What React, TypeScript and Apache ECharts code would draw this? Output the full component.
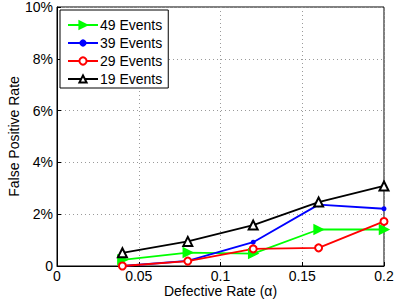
import React, { useEffect, useRef } from "react";
import * as echarts from "echarts";

const alphas = [0.04, 0.08, 0.12, 0.16, 0.2];
const xTicks = [0, 0.05, 0.1, 0.15, 0.2];
const yTicks = [0, 2, 4, 6, 8, 10];
const seriesNames = ["49 Events", "39 Events", "29 Events", "19 Events"];
const events49 = [0.24, 0.52, 0.48, 1.41, 1.41];
const events39 = [0.0, 0.2, 0.92, 2.37, 2.21];
const events29 = [0.0, 0.19, 0.66, 0.7, 1.72];
const events19 = [0.51, 0.95, 1.58, 2.47, 3.09];

const FONT = "Liberation Sans";
const FS = 14;

export default function App() {
  const ref = useRef<HTMLDivElement>(null);
  useEffect(() => {
    if (!ref.current) return;
    const chart = echarts.init(ref.current, null, { renderer: "svg" });
    const mk = (vals: number[]) => vals.map((v, i) => [alphas[i], v]);
    const series: any[] = [
      {
        name: seriesNames[0],
        type: "line",
        data: mk(events49),
        symbol: "triangle",
        symbolRotate: -90,
        symbolSize: 9,
        lineStyle: { color: "#00ff00", width: 1.8 },
        itemStyle: { color: "#00ff00", borderColor: "#00ff00", borderWidth: 1.5 },
      },
      {
        name: seriesNames[1],
        type: "line",
        data: mk(events39),
        symbol: "circle",
        symbolSize: 5,
        lineStyle: { color: "#0000ff", width: 1.8 },
        itemStyle: { color: "#0000ff", borderColor: "#0000ff", borderWidth: 0 },
      },
      {
        name: seriesNames[2],
        type: "line",
        data: mk(events29),
        symbol: "emptyCircle",
        symbolSize: 7,
        lineStyle: { color: "#ff0000", width: 1.8 },
        itemStyle: { color: "#ff0000", borderColor: "#ff0000", borderWidth: 1.5 },
      },
      {
        name: seriesNames[3],
        type: "line",
        data: mk(events19),
        symbol: "emptyTriangle",
        symbolSize: 9,
        lineStyle: { color: "#000000", width: 1.8 },
        itemStyle: { color: "#000000", borderColor: "#000000", borderWidth: 1.5 },
      },
    ];
    chart.setOption({
      animation: false,
      backgroundColor: "#ffffff",
      textStyle: { fontFamily: FONT },
      grid: {
        left: 57,
        right: 10,
        top: 7,
        bottom: 38,
        containLabel: false,
        outerBoundsMode: "none",
        show: true,
        borderColor: "#000",
        borderWidth: 1,
      },
      legend: {
        orient: "vertical",
        left: 60,
        top: 10,
        data: seriesNames,
        backgroundColor: "#fff",
        borderColor: "#000",
        borderWidth: 1,
        borderRadius: 0,
        padding: [8, 6, 2, 7],
        itemWidth: 30,
        itemHeight: 9,
        itemGap: 4,
        textStyle: { fontFamily: FONT, fontSize: FS, color: "#000", padding: [0, 0, 0, -3] },
      },
      xAxis: {
        type: "value",
        min: xTicks[0],
        max: xTicks[xTicks.length - 1],
        interval: 0.05,
        name: "Defective Rate (α)",
        nameLocation: "middle",
        nameGap: 18,
        nameMoveOverlap: false,
        nameTextStyle: { fontFamily: FONT, fontSize: FS, color: "#000" },
        axisLine: { lineStyle: { color: "#000", width: 1 } },
        axisTick: { inside: true, length: 4, lineStyle: { color: "#000" } },
        axisLabel: {
          fontFamily: FONT,
          fontSize: FS,
          color: "#000",
          margin: 3,
          formatter: (v: number) => (v === 0 ? "0" : String(Math.round(v * 100) / 100)),
        },
        splitLine: { show: true, lineStyle: { color: "#9a9a9a", type: [1, 3], width: 1 } },
      },
      yAxis: {
        type: "value",
        min: yTicks[0],
        max: yTicks[yTicks.length - 1],
        interval: 2,
        name: "False Positive Rate",
        nameLocation: "middle",
        nameGap: 36,
        nameMoveOverlap: false,
        nameTextStyle: { fontFamily: FONT, fontSize: FS, color: "#000" },
        axisLine: { show: true, lineStyle: { color: "#000", width: 1 } },
        axisTick: { show: true, inside: true, length: 4, lineStyle: { color: "#000" } },
        axisLabel: {
          fontFamily: FONT,
          fontSize: FS,
          color: "#000",
          margin: 4,
          formatter: (v: number) => (v === 0 ? "0" : v + "%"),
        },
        splitLine: { show: true, lineStyle: { color: "#9a9a9a", type: [1, 3], width: 1 } },
      },
      series,
    });
    return () => chart.dispose();
  }, []);
  return <div ref={ref} style={{ width: 394, height: 304, position: "fixed", left: 0, top: 0 }} />;
}
